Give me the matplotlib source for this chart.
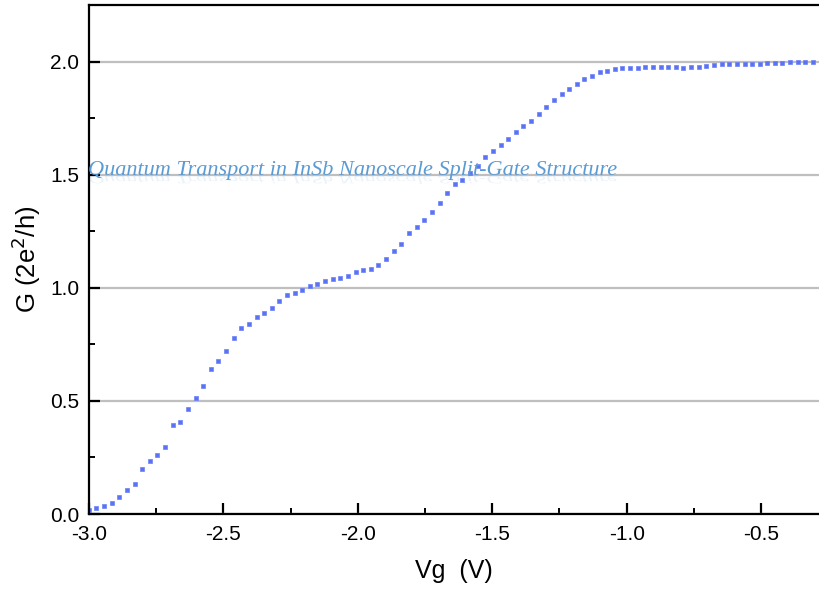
import matplotlib
matplotlib.use("Agg")
import matplotlib.pyplot as plt
from matplotlib.ticker import MultipleLocator, FormatStrFormatter
from matplotlib.textpath import TextPath
from matplotlib.patches import PathPatch
from matplotlib.font_manager import FontProperties
from matplotlib.transforms import Affine2D, IdentityTransform

# Gate voltage sweep (V)
vg = [-3.000, -2.972, -2.943, -2.915, -2.887, -2.858, -2.830, -2.802, -2.773, -2.745,
      -2.717, -2.688, -2.660, -2.632, -2.603, -2.575, -2.546, -2.518, -2.490, -2.461,
      -2.433, -2.405, -2.376, -2.348, -2.320, -2.291, -2.263, -2.235, -2.206, -2.178,
      -2.150, -2.121, -2.093, -2.065, -2.036, -2.008, -1.979, -1.951, -1.923, -1.894,
      -1.866, -1.838, -1.809, -1.781, -1.753, -1.724, -1.696, -1.668, -1.639, -1.611,
      -1.583, -1.554, -1.526, -1.498, -1.469, -1.441, -1.412, -1.384, -1.356, -1.327,
      -1.299, -1.271, -1.242, -1.214, -1.186, -1.157, -1.129, -1.101, -1.072, -1.044,
      -1.016, -0.987, -0.959, -0.931, -0.902, -0.874, -0.846, -0.817, -0.789, -0.761,
      -0.732, -0.704, -0.676, -0.647, -0.619, -0.591, -0.562, -0.534, -0.506, -0.477,
      -0.449, -0.421, -0.392, -0.364, -0.336, -0.307, -0.279]

# Conductance in units of 2e^2/h
conductance = [0.018, 0.025, 0.035, 0.049, 0.075, 0.108, 0.134, 0.199, 0.233, 0.262,
               0.298, 0.392, 0.407, 0.465, 0.513, 0.568, 0.642, 0.677, 0.720, 0.776,
               0.822, 0.841, 0.873, 0.888, 0.912, 0.942, 0.966, 0.978, 0.992, 1.006,
               1.018, 1.030, 1.037, 1.044, 1.054, 1.069, 1.080, 1.084, 1.100, 1.128,
               1.162, 1.193, 1.242, 1.269, 1.301, 1.336, 1.373, 1.417, 1.460, 1.477,
               1.509, 1.540, 1.579, 1.605, 1.630, 1.656, 1.690, 1.714, 1.738, 1.767,
               1.798, 1.831, 1.858, 1.878, 1.902, 1.922, 1.937, 1.952, 1.960, 1.969,
               1.972, 1.972, 1.972, 1.977, 1.977, 1.978, 1.977, 1.975, 1.972, 1.975,
               1.978, 1.981, 1.984, 1.987, 1.987, 1.988, 1.990, 1.990, 1.991, 1.993,
               1.994, 1.994, 1.996, 1.996, 1.999, 1.997, 1.999]

x_ticks = [-3.0, -2.5, -2.0, -1.5, -1.0, -0.5]
y_ticks = [0.0, 0.5, 1.0, 1.5, 2.0]
title = "Quantum Transport in InSb Nanoscale Split-Gate Structure"

W, H, DPI = 819, 593, 100
plt.rcParams["font.family"] = ["Liberation Sans", "DejaVu Sans"]

fig = plt.figure(figsize=(W / DPI, H / DPI), dpi=DPI)
left, right, top, bottom = 88.8, 819, 5, 514
ax = fig.add_axes([left / W, (H - bottom) / H, (right - left) / W, (bottom - top) / H])

ax.plot(vg, conductance, linestyle="none", marker="s", markersize=3.5,
        markerfacecolor="#5b72f5", markeredgecolor="#6b80f6", markeredgewidth=0.5,
        zorder=2)

ax.set_xlim(-3.0, -0.285)
ax.set_ylim(0.0, 2.25)
ax.set_xticks(x_ticks)
ax.set_yticks(y_ticks)
ax.xaxis.set_minor_locator(MultipleLocator(0.25))
ax.yaxis.set_minor_locator(MultipleLocator(0.25))
ax.xaxis.set_major_formatter(FormatStrFormatter("%.1f"))
ax.yaxis.set_major_formatter(FormatStrFormatter("%.1f"))

ax.grid(axis="y", which="major", color="#bfbfbf", linewidth=1.6, zorder=1)
ax.set_axisbelow(True)

for side in ("left", "bottom", "top"):
    ax.spines[side].set_linewidth(1.6)
    ax.spines[side].set_color("black")
ax.spines["right"].set_visible(False)

ax.tick_params(which="major", direction="in", length=8, width=1.6,
               labelsize=15, top=False, right=False)
ax.tick_params(axis="x", which="major", pad=8)
ax.tick_params(axis="y", which="major", pad=7)
ax.tick_params(which="minor", direction="in", length=4, width=1.4,
               top=False, right=False)

ax.set_xlabel("Vg  (V)", fontsize=18, labelpad=11)
ax.set_ylabel("G (2e$^2$/h)", fontsize=18.5, labelpad=5)

# Watermark-style caption with a faint reflection underneath
fs = 16
tx, ty = 88, H - 175
fig.text(tx / W, ty / H, title, fontsize=fs, color="#5b9bd5",
         family="Liberation Serif", style="italic", va="baseline", ha="left",
         zorder=5)
tp = TextPath((0, 0), title, size=fs * DPI / 72,
              prop=FontProperties(family="Liberation Serif", style="italic"))
refl = tp.transformed(Affine2D().scale(1, -0.5).translate(tx, ty - 1))
fig.patches.append(PathPatch(refl, transform=IdentityTransform(), facecolor="#5b9bd5",
                             edgecolor="none", alpha=0.13, figure=fig, zorder=4))

fig.savefig("out.png", dpi=DPI)
